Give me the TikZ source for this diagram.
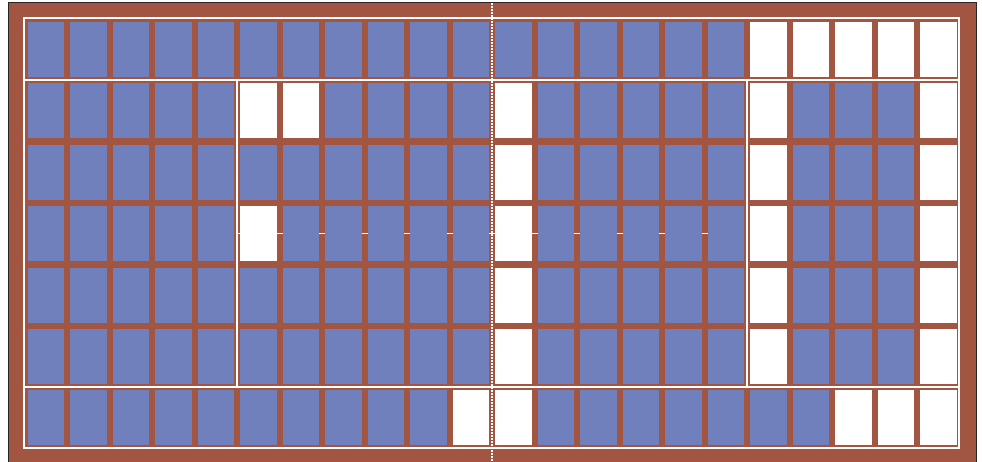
\documentclass[tikz,border=0pt]{standalone}
\usepackage{tikz}
\usetikzlibrary{calc}

\definecolor{court}{RGB}{162,86,66}
\definecolor{seatblue}{RGB}{112,128,188}
\tikzset{
  seat/.style={fill=seatblue},
  freeseat/.style={fill=white},
  divider/.style={draw=white,line width=2pt},
  midline/.style={draw=white,dash pattern=on 1.6pt off 1.4pt,line width=2.2pt},
}
% lower left corner of the cell in column #1 and row #2
\newcommand{\cellpos}[2]{({27.7+(#1-1)*42.5},{22+(#2-1)*61.4})}

\begin{document}
\begin{tikzpicture}[x=1pt,y=-1pt]
  \useasboundingbox (0,0) rectangle (982,462);
  \clip (0,0) rectangle (982,462);
  \fill[white] (0,0) rectangle (982,462);
  \draw[fill=court,draw=black!85,line width=1pt] (8.5,2.5) rectangle (976.5,470);
  \draw[white,line width=1.8pt] (237.2,233.5) -- (726,233.5);
  \foreach \r in {1,...,7}
    \foreach \c in {1,...,22}
      \fill[seat] \cellpos{\c}{\r} rectangle ++(36.5,55);
  \foreach \c/\r in {18/1,19/1,20/1,21/1,22/1,
                     6/2,7/2,12/2,18/2,22/2,
                     12/3,18/3,22/3,
                     6/4,12/4,18/4,22/4,
                     12/5,18/5,22/5,
                     12/6,18/6,22/6,
                     11/7,12/7,20/7,21/7,22/7}
    \fill[freeseat] \cellpos{\c}{\r} rectangle ++(36.5,55);
  \draw[divider] (24,18.3) rectangle (959.3,447.8);
  \draw[divider] (24,80.2) -- (959.3,80.2);
  \draw[divider] (24,387.2) -- (959.3,387.2);
  \draw[divider] (237.4,80.2) -- (237.4,387.2);
  \draw[divider] (747.4,80.2) -- (747.4,387.2);
  \draw[midline] (492.2,3) -- (492.2,462);
\end{tikzpicture}
\end{document}
